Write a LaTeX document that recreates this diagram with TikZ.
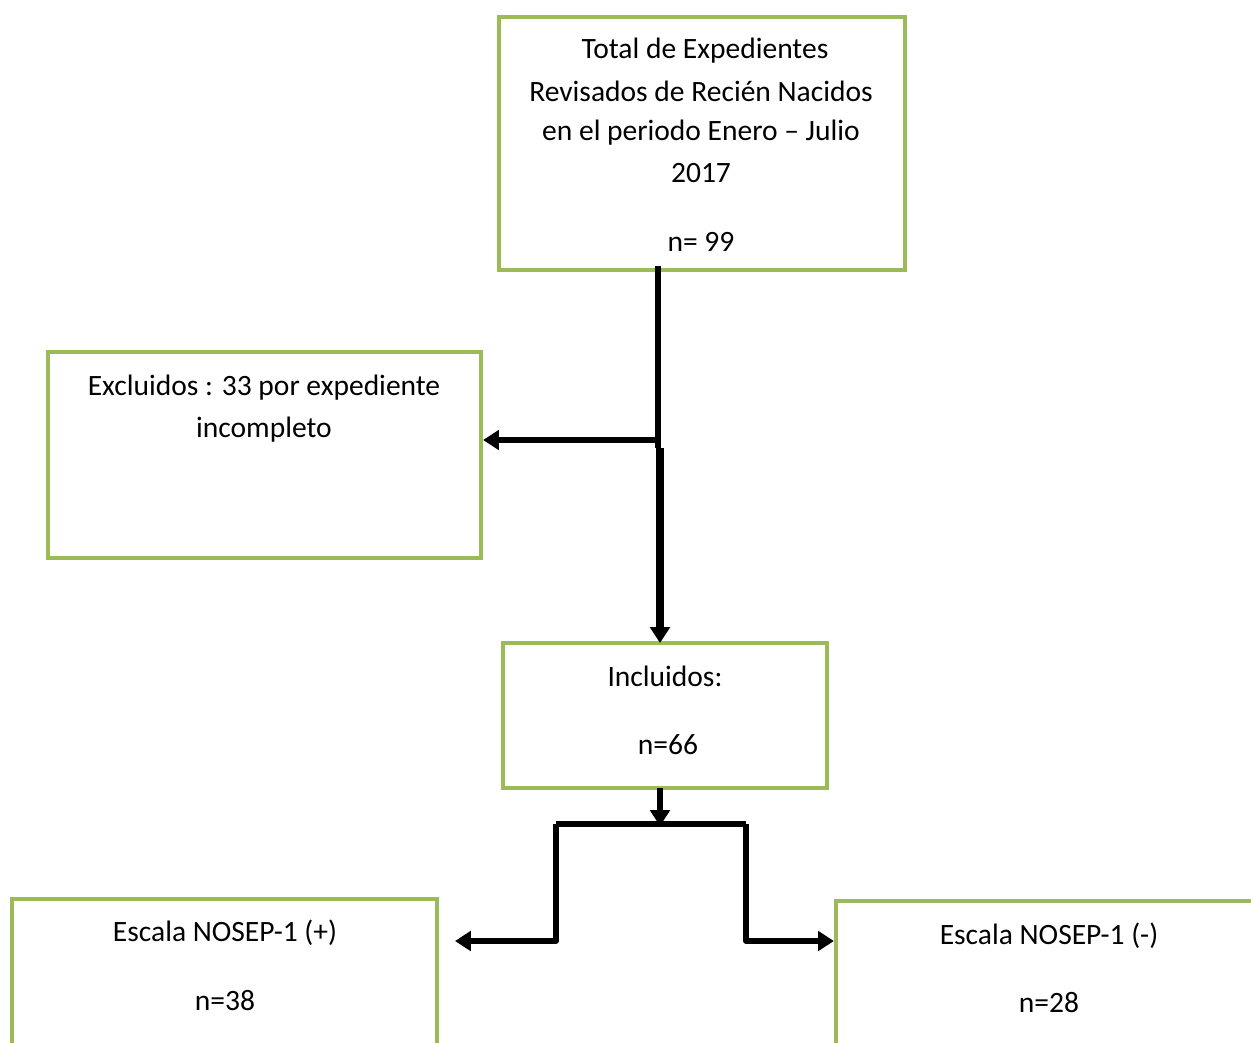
\documentclass[tikz,border=0pt]{standalone}
\usepackage{fontspec}
\setmainfont{Carlito}
\usetikzlibrary{arrows.meta}
\definecolor{boxgreen}{HTML}{9BBB59}
\tikzset{
  box/.style={draw=boxgreen, line width=2.4pt, rectangle, inner sep=0pt},
  txt/.style={font=\fontsize{16.8}{23}\selectfont, inner sep=0pt, anchor=center, yshift=-0.05cm},
  conn/.style={draw=black, line width=2.9pt, line join=round, -{Triangle[length=9pt,width=11pt]}},
  connp/.style={draw=black, line width=2.9pt, line join=round}
}
\begin{document}
\begin{tikzpicture}[x=0.02cm, y=-0.02cm]
\useasboundingbox (0,0) rectangle (1251,1042);
\clip (0,0) rectangle (1251,1042);
% boxes
\node[box, minimum width={406*0.02cm}, minimum height={253*0.02cm}] (total) at (702,143.5) {};
\node[box, minimum width={433*0.02cm}, minimum height={206*0.02cm}] (excl) at (264.5,455) {};
\node[box, minimum width={324*0.02cm}, minimum height={145*0.02cm}] (incl) at (665,715.5) {};
\node[box, minimum width={425*0.02cm}, minimum height={200*0.02cm}] (pos) at (224.5,999) {};
\node[box, minimum width={440*0.02cm}, minimum height={200*0.02cm}] (neg) at (1056,1001) {};
% texts
\node[txt] (t1) at (705,48) {Total de Expedientes};
\node[txt] (t2) at (701,89) {Revisados de Recién Nacidos};
\node[txt] (t3) at (701,130) {en el periodo Enero – Julio};
\node[txt] (t4) at (701,171) {2017};
\node[txt] (t5) at (701,239) {n= 99};
\node[txt] (e1) at (264,385) {Excluidos : 33 por expediente};
\node[txt] (e2) at (264,427) {incompleto};
\node[txt] (i1) at (665,674) {Incluidos:};
\node[txt] (i2) at (668,742) {n=66};
\node[txt] (p1) at (225,930) {Escala NOSEP-1 (+)};
\node[txt] (p2) at (225,998) {n=38};
\node[txt] (n1) at (1049,933) {Escala NOSEP-1 (-)};
\node[txt] (n2) at (1049,1000) {n=28};
% connectors
\coordinate (a0) at (658,266);
\coordinate (a1) at (658,440);
\coordinate (a2) at (658,448);
\draw[connp] (a0) -- (a2);
\draw[conn] (a1) -- (excl.east |- a1);
\draw[conn, line width=4pt] (660,448) -- (660,643);
\coordinate (b0) at (660,788);
\coordinate (b1) at (660,826);
\draw[conn] (b0) -- (b1);
\coordinate (l0) at (556,824);
\coordinate (r0) at (746,824);
\draw[connp] (l0) -- (r0);
\draw[conn] (l0) -- (556,941) -- (455,941);
\draw[conn] (r0) -- (746,941) -- (neg.west |- 0,941);
\end{tikzpicture}
\end{document}
